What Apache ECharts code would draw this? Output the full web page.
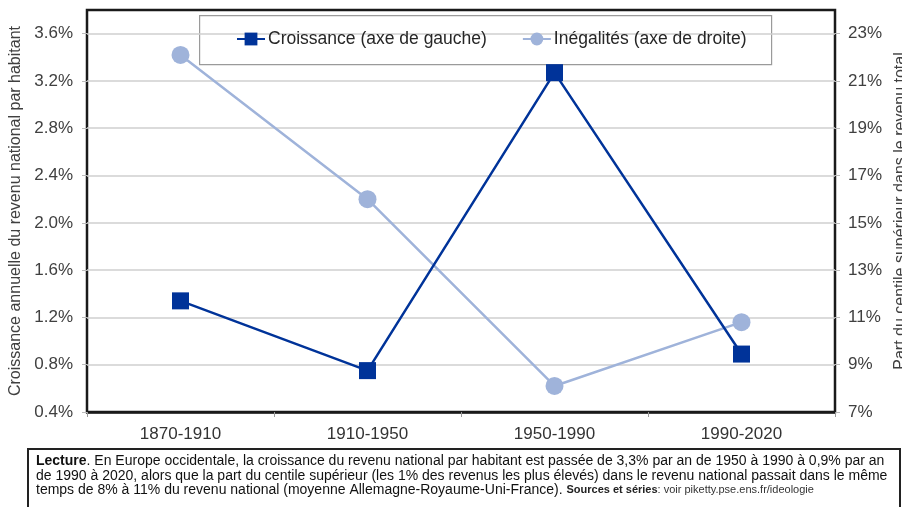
<!DOCTYPE html>
<html><head><meta charset="utf-8">
<script src="https://cdn.jsdelivr.net/npm/echarts@6/dist/echarts.min.js"></script>
<style>html,body{margin:0;padding:0;background:#fff}#c{width:902px;height:507px}</style>
</head><body><div id="c"></div>
<script>
var categories = ['1870-1910', '1910-1950', '1950-1990', '1990-2020'];
var croissance = [1.34, 0.75, 3.27, 0.89];
var inegalites = [22.1, 16.0, 8.1, 10.8];
var leftTicks = { min: 0.4, max: 3.8, interval: 0.4 };
var rightTicks = { min: 7, max: 24, interval: 2 };
var seriesNames = ['Croissance (axe de gauche)', 'Inégalités (axe de droite)'];
var leftName = 'Croissance annuelle du revenu national par habitant';
var rightName = 'Part du centile supérieur dans le revenu total';

var FONT = '"Liberation Sans", Arial, sans-serif';
var chart = echarts.init(document.getElementById('c'));
chart.setOption({
  animation: false,
  textStyle: { fontFamily: FONT },
  grid: { left: 87, right: 67, top: 10, bottom: 95, outerBoundsMode: 'none', containLabel: false,
    show: true, borderColor: '#1a1a1a', borderWidth: 2.5, backgroundColor: 'transparent' },
  legend: {
    data: seriesNames, left: 231, top: 25, itemWidth: 28, itemHeight: 16, itemGap: 35,
    textStyle: { fontSize: 17.5, color: '#262626', fontFamily: FONT, padding: [0, 0, 0, -2] }
  },
  graphic: [
    { type: 'rect', left: 199, top: 15, shape: { width: 572, height: 49 }, style: { fill: '#fff', stroke: '#9a9a9a', lineWidth: 1.2 } },
    { type: 'rect', left: 27, top: 448, shape: { width: 872, height: 70 }, style: { fill: '#fff', stroke: '#222', lineWidth: 2 } },
    { type: 'text', left: 36, top: 454, style: {
      text: '{b|Lecture}. En Europe occidentale, la croissance du revenu national par habitant est passée de 3,3% par an de 1950 à 1990 à 0,9% par an\nde 1990 à 2020, alors que la part du centile supérieur (les 1% des revenus les plus élevés) dans le revenu national passait dans le même\ntemps de 8% à 11% du revenu national (moyenne Allemagne-Royaume-Uni-France). {s|Sources et séries}{t|: voir piketty.pse.ens.fr/ideologie}',
      font: '14px ' + FONT, fill: '#111', lineHeight: 14.5,
      rich: {
        b: { fontWeight: 'bold', fontSize: 14, fill: '#111', fontFamily: FONT, lineHeight: 14.5 },
        s: { fontWeight: 'bold', fontSize: 11, fill: '#222', fontFamily: FONT, lineHeight: 14.5 },
        t: { fontSize: 11, fill: '#333', fontFamily: FONT, lineHeight: 14.5 }
      } } }
  ],
  xAxis: {
    type: 'category', data: categories, boundaryGap: true,
    axisLine: { lineStyle: { color: '#1a1a1a', width: 2.5 } },
    axisTick: { show: true, length: 5, lineStyle: { color: '#999' } },
    axisLabel: { fontSize: 17, color: '#333', margin: 14, fontFamily: FONT }
  },
  yAxis: [
    {
      type: 'value', position: 'left', min: leftTicks.min, max: leftTicks.max, interval: leftTicks.interval,
      name: leftName, nameLocation: 'middle', nameGap: 61, nameRotate: 90,
      nameTextStyle: { fontSize: 16, color: '#404040', fontFamily: FONT },
      axisLine: { show: false }, axisTick: { show: true, length: 5, lineStyle: { color: '#bbb' } },
      axisLabel: { fontSize: 17, color: '#404040', margin: 14, showMaxLabel: false, fontFamily: FONT,
        formatter: function (v) { return v.toFixed(1) + '%'; } },
      splitLine: { showMinLine: false, showMaxLine: false, lineStyle: { color: '#cfcfcf', width: 1.5 } }
    },
    {
      type: 'value', position: 'right', min: rightTicks.min, max: rightTicks.max, interval: rightTicks.interval,
      name: rightName, nameLocation: 'middle', nameGap: 50, nameRotate: 90,
      nameTextStyle: { fontSize: 16, color: '#404040', fontFamily: FONT },
      axisLine: { show: false }, axisTick: { show: true, length: 5, lineStyle: { color: '#bbb' } },
      axisLabel: { fontSize: 17, color: '#404040', margin: 13, showMaxLabel: false, fontFamily: FONT,
        formatter: function (v) { return Math.round(v) + '%'; } },
      splitLine: { show: false }
    }
  ],
  series: [
    { name: seriesNames[0], type: 'line', yAxisIndex: 0, data: croissance, symbol: 'rect', symbolSize: 17,
      itemStyle: { color: '#003399' }, lineStyle: { color: '#003399', width: 2.5 }, z: 3 },
    { name: seriesNames[1], type: 'line', yAxisIndex: 1, data: inegalites, symbol: 'circle', symbolSize: 18,
      itemStyle: { color: '#9fb3da' }, lineStyle: { color: '#9fb3da', width: 2.5 }, z: 2 }
  ]
});
</script></body></html>
